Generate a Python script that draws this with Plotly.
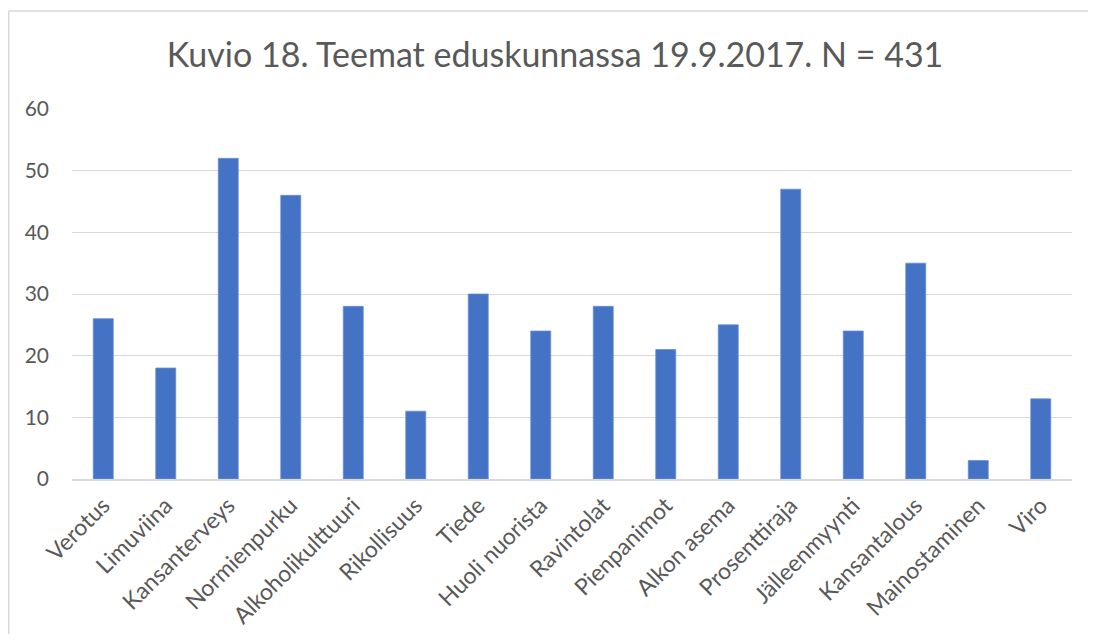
import plotly.graph_objects as go

categories = ["Verotus", "Limuviina", "Kansanterveys", "Normienpurku", "Alkoholikulttuuri",
              "Rikollisuus", "Tiede", "Huoli nuorista", "Ravintolat", "Pienpanimot",
              "Alkon asema", "Prosenttiraja", "Jälleenmyynti", "Kansantalous",
              "Mainostaminen", "Viro"]
values = [26, 18, 52, 46, 28, 11, 30, 24, 28, 21, 25, 47, 24, 35, 3, 13]
y_ticks = [0, 10, 20, 30, 40, 50, 60]
title_text = "Kuvio 18. Teemat eduskunnassa 19.9.2017. N = 431"

FONT = "Lato"
GREY = "#595959"

fig = go.Figure(go.Bar(
    x=categories, y=values,
    marker=dict(color="#4472C4", line=dict(color="#6A8FD3", width=0.8)),
))

# page has 8px body margin; figure is sized/offset to compensate
W, H = 1080, 626
L, R, T, B = 64, 16, 101, 155
pw, ph = W - L - R, H - T - B

fig.update_layout(
    width=W, height=H,
    margin=dict(l=L, r=R, t=T, b=B, autoexpand=False),
    paper_bgcolor="white", plot_bgcolor="white",
    bargap=0.68,
    showlegend=False,
    title=dict(text=title_text, x=(547 - L) / pw, xanchor="center", xref="paper",
               y=1 - 47 / H, yanchor="middle",
               font=dict(family=FONT, size=34, color=GREY)),
    font=dict(family=FONT, color=GREY),
    xaxis=dict(tickangle=-45, tickfont=dict(size=23, color=GREY),
               showline=True, linecolor="#D9D9D9", linewidth=2,
               showgrid=False, ticks="", ticklabelstandoff=2, automargin=False),
    yaxis=dict(range=[0, 60], tickvals=y_ticks, tickfont=dict(size=21, color=GREY),
               showgrid=True, gridcolor="#D9D9D9", gridwidth=1,
               zeroline=False, showline=False, ticks="", ticklabelstandoff=22,
               automargin=False),
    shapes=[
        dict(type="line", xref="paper", yref="paper",
             x0=(0.8 - L) / pw, x1=(W - L) / pw, y0=(H - B - 3) / ph, y1=(H - B - 3) / ph,
             line=dict(color="#D9D9D9", width=1.5), layer="below"),
        dict(type="line", xref="paper", yref="paper",
             x0=(0.8 - L) / pw, x1=(0.8 - L) / pw, y0=-B / ph, y1=(H - B - 3) / ph,
             line=dict(color="#D9D9D9", width=1.5), layer="below"),
    ],
)

fig.write_html("out.html")
